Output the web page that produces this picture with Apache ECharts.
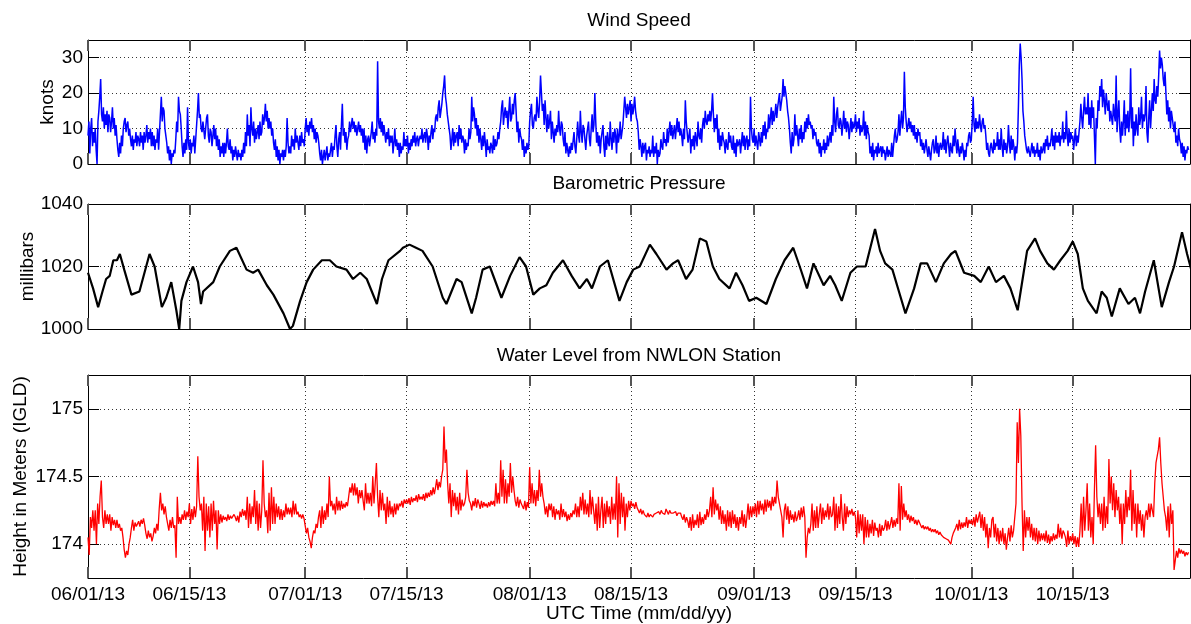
<!DOCTYPE html>
<html><head><meta charset="utf-8">
<script src="https://cdn.jsdelivr.net/npm/echarts@6/dist/echarts.min.js"></script>
<style>html,body{margin:0;padding:0;background:#fff}#c{width:1191px;height:624px}</style>
</head><body><div id="c"></div>
<script>
// ---- time axis (days since 06/01/13 00:00 UTC) ----
const X_MAX_DAYS = 152.2;
const tickDays = [0, 14, 30, 44, 61, 75, 92, 106, 122, 136];
const tickLabels = ['06/01/13','06/15/13','07/01/13','07/15/13','08/01/13','08/15/13','09/01/13','09/15/13','10/01/13','10/15/13'];

// ---- y tick values ----
const windTicks = [0, 10, 20, 30];
const pressureTicks = [1000, 1020, 1040];
const waterTicks = [174, 174.5, 175];

// ---- wind speed (knots), every 3 hours from 06/01/13 ----
const windStepDays = 0.125;
const windKnots = [
8,12,3,10,13,5,9,6, 10,4,0,12,15,19,24,14, 12,16,10,14,11,15,9,14, 13,9,12,16,10,13,8,11, 7,4,2,6,3,8,5,10,
12,13,9,11,12,8,10,7, 5,8,4,7,6,9,5,8, 7,5,9,6,8,4,9,6, 8,11,6,9,7,10,5,9, 5,8,4,7,6,10,4,9,
14,19,12,16,15,10,8,6, 3,5,1,4,0,3,2,4, 3,7,12,9,19,15,14,10, 5,2,6,3,7,4,16,6, 4,7,3,6,5,8,3,7,
11,15,20,13,14,10,9,12, 12,7,10,13,14,8,6,10, 9,5,8,11,7,10,5,8, 4,7,2,5,3,6,2,6, 3,6,10,5,4,7,3,5,
1,4,2,5,3,1,4,2, 3,1,4,2,6,3,9,5, 14,8,11,5,16,10,8,12, 6,10,7,9,11,7,12,8, 9,14,11,13,17,12,15,10,
13,10,12,8,10,6,4,7, 2,5,1,4,0,3,2,4, 1,4,2,5,13,6,3,5, 3,8,5,7,4,10,6,8, 6,4,8,5,9,6,7,5,
10,13,9,11,8,12,10,13, 9,11,7,10,6,9,8,6, 3,1,4,0,2,4,1,3, 5,1,3,2,4,6,2,5, 4,8,11,5,2,7,9,4,
11,17,8,10,6,9,4,7, 8,12,9,11,13,10,12,9, 11,8,10,12,9,11,8,10, 6,10,4,8,3,7,8,5, 5,9,12,7,9,6,10,8,
29,12,10,13,9,12,8,11, 11,6,9,7,10,5,8,6, 8,3,6,10,5,7,4,6, 2,6,3,5,4,9,5,7, 5,8,3,6,4,7,5,8,
6,9,5,7,8,5,7,8, 7,10,6,8,9,6,10,8, 4,8,6,9,11,7,10,9, 13,14,12,16,18,13,15,17, 20,22,25,19,17,14,12,10,
8,4,7,10,5,9,6,8, 9,5,11,7,10,6,8,7, 3,7,4,6,5,10,7,9, 19,12,16,14,10,13,8,11, 6,10,7,4,8,5,9,6,
2,7,4,5,3,6,5,3, 8,4,7,5,6,9,7,10, 12,16,18,11,14,16,13,15, 10,15,19,12,13,17,14,18, 20,15,9,12,6,10,8,7,
4,7,2,5,3,6,4,5, 12,15,17,11,10,13,14,12, 19,15,13,18,25,20,15,17, 11,18,13,9,14,10,12,15, 7,12,9,6,10,8,11,9,
15,10,8,12,11,7,5,9, 3,6,4,2,5,3,6,4, 4,9,5,3,7,12,8,6, 15,9,6,11,10,7,4,8, 8,12,7,5,10,14,9,11,
20,12,6,9,5,8,3,7, 7,11,5,2,8,4,9,6, 5,12,7,4,9,6,10,8, 3,10,6,8,12,7,9,11, 15,19,16,13,17,14,16,18,
12,17,14,16,19,15,13,12, 9,4,7,5,2,6,3,5, 6,1,4,3,5,2,4,3, 8,2,5,3,6,0,4,2, 3,7,5,4,9,6,7,5,
10,6,9,12,8,11,7,9, 11,7,10,13,9,12,8,10, 8,5,10,7,18,12,9,6, 6,10,3,7,5,8,4,9, 9,5,12,8,7,10,6,11,
13,10,15,12,11,14,12,15, 12,15,20,14,9,13,10,14, 6,10,4,8,5,9,7,6, 3,7,5,4,9,6,8,5, 4,8,3,6,2,7,5,6,
7,3,6,9,5,8,4,7, 8,4,7,5,19,10,7,6, 10,5,8,6,4,9,7,5, 9,6,11,8,12,7,10,9, 14,10,13,16,11,15,12,14,
17,13,16,18,20,15,17,19, 24,19,22,20,18,15,13,10, 6,3,9,5,7,14,8,11, 8,5,10,7,11,6,9,7, 12,9,13,10,14,11,12,10,
11,7,10,8,9,6,5,7, 3,6,2,5,4,7,3,6, 4,8,5,7,9,6,11,8, 19,12,9,14,16,11,10,13, 12,8,11,15,10,13,9,12,
11,7,10,13,9,12,10,11, 14,9,12,10,13,8,11,9, 10,15,8,12,7,11,9,8, 3,5,2,6,1,4,3,5, 2,6,3,4,5,2,5,3,
4,1,3,5,2,4,3,2, 6,2,5,8,10,6,7,9, 14,8,12,15,10,13,26,16, 12,9,11,13,10,12,9,11, 8,11,7,9,6,10,8,9,
5,7,4,6,3,5,7,4, 2,5,3,1,4,6,7,3, 4,8,3,6,2,5,6,4, 5,9,4,7,3,6,8,5, 2,6,4,3,8,5,10,6,
3,7,4,2,5,3,6,4, 1,4,2,6,5,8,9,6, 7,12,19,11,9,13,10,12, 10,14,11,9,12,13,10,11, 8,4,6,3,2,5,6,4,
3,7,4,6,5,9,4,7, 4,10,5,2,7,4,6,3, 5,11,6,3,8,4,7,5, 1,5,3,6,16,28,34,30, 24,15,12,8,6,4,3,5,
5,2,4,6,3,5,2,4, 3,6,2,4,1,5,3,4, 6,3,7,5,8,4,6,5, 7,10,5,8,4,9,6,8, 6,9,5,8,7,12,6,9,
7,15,8,5,10,6,9,7, 8,4,7,10,5,8,6,9, 12,17,13,10,15,19,14,16, 14,20,11,16,10,18,13,16, 8,0,13,10,18,15,22,19,
24,16,21,18,14,20,17,15, 18,12,15,13,11,17,14,12, 25,9,14,18,10,6,12,8, 12,18,8,14,10,15,9,13, 27,10,16,5,12,8,14,10,
8,16,11,13,19,10,14,12, 14,22,9,6,13,18,10,15, 20,15,24,18,17,22,19,25, 32,27,30,28,24,22,26,20, 14,18,12,16,10,15,13,11,
9,12,6,8,5,10,7,6, 3,6,2,5,1,4,3,5, 4
];

// ---- barometric pressure (millibars): [day, value] readings ----
const pressureReadings = [
[0,1018],[0.7,1013],[1.4,1007],[2,1012],[2.5,1016],[3,1017],[3.5,1022],[4,1022],[4.4,1024],[5,1019],[6,1011],[7.1,1012],
[8.5,1024],[9.2,1020],[10.2,1007],[10.8,1010],[11.5,1015],[12.2,1006],[12.6,1000],[12.9,1009],[13.6,1015],[14.5,1020],
[15.2,1015],[15.6,1008],[15.9,1012],[17.3,1015],[18.2,1020],[19.6,1025],[20.5,1026],[21.9,1019],[22.8,1018],[23.5,1019],
[24.7,1014],[25.6,1011],[27,1005],[27.9,1000],[28.3,1001],[29.3,1009],[30.2,1015],[31.1,1019],[32.3,1022],[33.4,1022],
[34.3,1020],[35.7,1019],[36.6,1016],[37.6,1018],[38.5,1016],[39.9,1008],[40.6,1016],[41.5,1022],[43.1,1025],[43.5,1026],
[44.4,1027],[45.3,1026],[46.2,1025],[47.6,1020],[49,1010],[49.5,1008],[50.9,1016],[51.6,1015],[53,1005],[53.6,1010],
[54.5,1019],[55.5,1020],[57.1,1010],[58.3,1017],[59.6,1023],[60.5,1020],[61.5,1011],[62.4,1013],[63.3,1014],[64.2,1018],
[65.6,1022],[66.8,1017],[67.9,1013],[68.9,1016],[69.6,1013],[70.7,1020],[71.8,1022],[73.4,1009],[74.4,1015],[75.3,1019],
[76.2,1020],[77.6,1027],[78.5,1024],[79.9,1019],[80.8,1021],[81.5,1022],[82.6,1016],[83.5,1019],[84.5,1029],[85.4,1028],
[86.3,1020],[87.2,1016],[88.6,1013],[89.5,1018],[90.4,1014],[91.3,1009],[92.3,1010],[93.7,1008],[95,1016],[96.2,1022],
[97.4,1026],[98.3,1020],[99.3,1013],[100.2,1021],[101.6,1014],[102.5,1017],[103.2,1014],[104.1,1009],[105.3,1018],
[106.2,1020],[107.4,1020],[108.7,1032],[109.4,1025],[110.1,1021],[111.1,1019],[112,1012],[112.9,1005],[113.1,1005],
[114.1,1013],[115,1021],[115.9,1021],[117.1,1015],[118.2,1021],[119.2,1024],[119.8,1025],[121,1018],[122.4,1017],
[123.3,1015],[124.4,1020],[125.4,1015],[126.5,1017],[127.4,1013],[128.4,1006],[129.7,1025],[130.8,1029],[131.5,1025],
[132.5,1021],[133.4,1019],[134.3,1022],[135.3,1025],[136,1028],[136.7,1024],[137.4,1013],[138.1,1009],[139.3,1005],
[140,1012],[140.7,1010],[141.4,1004],[142.5,1013],[143.7,1008],[144.6,1010],[145.3,1005],[146,1012],[147.2,1022],
[148.3,1007],[149.3,1015],[150,1020],[151.1,1031],[151.8,1024],[152.6,1017]
];

// ---- water level (m, IGLD), every 4 hours from 06/01/13 ----
const waterStepDays = 1 / 6;
const waterLevel = [
174.05,173.92,174.2,174.12,174.25,174.1, 174.25,174.0,174.3,174.15,174.35,174.47, 174.2,174.12,174.25,174.15,174.22,174.15,
174.22,174.1,174.2,174.14,174.18,174.12, 174.18,174.12,174.15,174.1,174.12,174.05, 173.96,173.9,173.95,173.92,174.0,174.05,
174.12,174.18,174.1,174.16,174.13,174.15, 174.17,174.13,174.18,174.15,174.19,174.14, 174.08,174.04,174.1,174.05,174.08,174.02,
174.06,174.12,174.08,174.15,174.1,174.26, 174.38,174.25,174.3,174.22,174.28,174.2, 174.15,174.1,174.18,174.12,174.2,174.12,
174.14,173.9,174.35,174.15,174.2,174.15, 174.22,174.18,174.25,174.18,174.24,174.2, 174.3,174.15,174.26,174.18,174.28,174.2,
174.28,174.65,174.35,174.25,174.3,174.1, 174.35,173.95,174.3,174.1,174.28,174.05, 174.3,174.1,174.32,174.15,174.25,173.96,
174.25,174.15,174.22,174.16,174.21,174.18, 174.2,174.17,174.22,174.18,174.21,174.19, 174.18,174.22,174.2,174.17,174.21,174.16,
174.24,174.2,174.26,174.21,174.25,174.18, 174.35,174.12,174.3,174.15,174.28,174.2, 174.4,174.15,174.32,174.1,174.3,174.12,
174.25,174.62,174.3,174.2,174.25,174.08, 174.38,174.1,174.42,174.15,174.35,174.15, 174.3,174.2,174.28,174.18,174.26,174.18,
174.25,174.2,174.3,174.22,174.27,174.22, 174.27,174.2,174.32,174.22,174.3,174.22, 174.24,174.2,174.22,174.19,174.22,174.19,
174.2,174.08,174.12,174.05,174.02,173.97, 174.05,174.1,174.08,174.15,174.12,174.2, 174.25,174.12,174.28,174.15,174.25,174.18,
174.3,174.2,174.5,174.28,174.32,174.25, 174.3,174.22,174.35,174.25,174.32,174.25, 174.32,174.26,174.3,174.27,174.31,174.28,
174.35,174.42,174.38,174.45,174.36,174.45, 174.36,174.42,174.3,174.4,174.34,174.4, 174.32,174.25,174.45,174.3,174.38,174.3,
174.38,174.28,174.5,174.3,174.45,174.6, 174.35,174.2,174.4,174.25,174.38,174.25, 174.3,174.15,174.35,174.2,174.32,174.22,
174.28,174.2,174.3,174.22,174.3,174.25, 174.3,174.28,174.32,174.27,174.33,174.3, 174.33,174.3,174.34,174.29,174.35,174.31,
174.34,174.32,174.36,174.31,174.37,174.33, 174.35,174.33,174.37,174.32,174.38,174.34, 174.38,174.35,174.4,174.36,174.42,174.37,
174.42,174.48,174.4,174.46,174.42,174.5, 174.55,174.87,174.6,174.7,174.45,174.3, 174.45,174.2,174.4,174.28,174.38,174.25,
174.35,174.22,174.38,174.25,174.33,174.28, 174.3,174.35,174.55,174.38,174.32,174.3, 174.25,174.32,174.28,174.34,174.27,174.33,
174.3,174.26,174.32,174.27,174.31,174.28, 174.3,174.27,174.31,174.28,174.32,174.29, 174.32,174.28,174.45,174.3,174.38,174.3,
174.62,174.35,174.55,174.3,174.48,174.3, 174.45,174.35,174.6,174.38,174.5,174.4, 174.32,174.28,174.35,174.27,174.33,174.3,
174.3,174.26,174.32,174.25,174.31,174.27, 174.57,174.3,174.45,174.3,174.4,174.28, 174.4,174.32,174.55,174.35,174.45,174.35,
174.3,174.22,174.28,174.2,174.3,174.25, 174.3,174.2,174.28,174.18,174.26,174.22, 174.25,174.18,174.3,174.2,174.26,174.2,
174.24,174.17,174.22,174.18,174.23,174.2, 174.25,174.22,174.3,174.2,174.28,174.2, 174.35,174.25,174.38,174.22,174.33,174.22,
174.3,174.2,174.4,174.22,174.35,174.25, 174.15,174.3,174.1,174.35,174.12,174.25, 174.35,174.12,174.3,174.15,174.32,174.2,
174.28,174.15,174.35,174.18,174.3,174.18, 174.5,174.05,174.45,174.15,174.38,174.2, 174.35,174.1,174.3,174.2,174.32,174.25,
174.32,174.28,174.3,174.26,174.31,174.27, 174.25,174.23,174.26,174.22,174.25,174.22, 174.22,174.2,174.23,174.2,174.22,174.21,
174.2,174.22,174.21,174.23,174.22,174.24, 174.22,174.25,174.23,174.24,174.22,174.26, 174.24,174.22,174.25,174.23,174.24,174.23,
174.22,174.24,174.21,174.23,174.22,174.23, 174.2,174.18,174.22,174.16,174.2,174.17, 174.12,174.2,174.1,174.22,174.12,174.18,
174.14,174.22,174.12,174.24,174.14,174.2, 174.15,174.22,174.18,174.26,174.2,174.25, 174.35,174.2,174.42,174.22,174.33,174.25,
174.3,174.18,174.28,174.15,174.25,174.15, 174.22,174.1,174.25,174.13,174.24,174.12, 174.25,174.15,174.22,174.12,174.2,174.1,
174.2,174.15,174.25,174.13,174.22,174.12, 174.2,174.3,174.18,174.28,174.2,174.28, 174.22,174.3,174.2,174.32,174.22,174.32,
174.25,174.3,174.22,174.33,174.24,174.33, 174.27,174.32,174.25,174.35,174.28,174.35, 174.3,174.47,174.35,174.3,174.25,174.2,
174.05,174.25,174.3,174.18,174.28,174.15, 174.25,174.18,174.22,174.16,174.24,174.17, 174.2,174.25,174.18,174.27,174.2,174.28,
174.2,173.9,174.05,174.12,174.08,174.15, 174.3,174.1,174.25,174.12,174.28,174.12, 174.22,174.3,174.15,174.27,174.18,174.25,
174.2,174.3,174.18,174.28,174.2,174.22, 174.35,174.1,174.3,174.12,174.28,174.15, 174.37,174.2,174.1,174.3,174.15,174.28,
174.2,174.25,174.22,174.26,174.21,174.24, 174.2,174.05,174.25,174.08,174.22,174.1, 174.22,174.0,174.2,174.05,174.18,174.05,
174.15,174.08,174.18,174.06,174.16,174.1, 174.12,174.05,174.15,174.06,174.14,174.1, 174.12,174.18,174.1,174.17,174.11,174.15,
174.2,174.12,174.18,174.13,174.19,174.15, 174.45,174.1,174.43,174.18,174.3,174.2, 174.25,174.18,174.22,174.16,174.21,174.17,
174.2,174.15,174.18,174.14,174.18,174.16, 174.15,174.12,174.14,174.11,174.13,174.11, 174.13,174.1,174.12,174.09,174.11,174.09,
174.11,174.08,174.1,174.07,174.09,174.07, 174.08,174.05,174.06,174.04,174.05,174.03, 174.02,174.0,174.05,174.08,174.1,174.12,
174.15,174.1,174.18,174.11,174.16,174.12, 174.16,174.13,174.2,174.12,174.18,174.15, 174.18,174.14,174.2,174.13,174.22,174.16,
174.2,174.24,174.12,174.22,174.1,174.2, 174.05,174.15,173.97,174.12,174.05,174.18, 174.2,174.05,174.15,174.02,174.12,174.0,
174.1,174.02,174.12,174.0,174.08,173.96, 174.05,174.12,174.02,174.14,174.05,174.1, 174.1,174.3,174.9,174.6,175.0,174.8,
174.3,173.95,174.25,174.05,174.2,174.1, 174.2,174.05,174.15,174.03,174.12,174.02, 174.12,174.0,174.1,174.02,174.08,174.03,
174.08,174.02,174.1,174.01,174.07,174.0, 174.06,174.02,174.08,174.03,174.07,174.04, 174.15,174.05,174.12,174.04,174.1,174.08,
174.05,173.98,174.1,174.0,174.06,174.02, 174.08,174.0,174.06,173.98,174.05,173.98, 174.1,174.3,174.05,174.35,174.1,174.25,
174.45,174.1,174.3,174.05,174.2,174.0, 174.4,174.73,174.35,174.2,174.3,174.15, 174.3,174.1,174.35,174.12,174.28,174.15,
174.63,174.3,174.5,174.25,174.45,174.2, 174.4,174.25,174.35,174.15,174.3,174.0, 174.3,174.15,174.4,174.2,174.35,174.25,
174.55,174.1,174.4,174.15,174.3,174.05, 174.3,174.15,174.25,174.1,174.22,174.05, 174.2,174.25,174.18,174.3,174.2,174.3,
174.25,174.2,174.45,174.6,174.65,174.7, 174.79,174.6,174.45,174.35,174.25,174.2, 174.1,174.28,174.05,174.3,174.15,174.25,
173.81,173.88,173.95,173.9,173.97,173.93, 173.96,173.93,173.95,173.91,173.94,173.92, 173.94
];

// ---- build chart ----
const FONT = 'Liberation Sans, Arial, sans-serif';
const txt = { fontSize: 19, color: '#000', fontFamily: FONT };
const gridDefs = [
  { left: 88, right: 1, top: 40, height: 124, outerBoundsMode: 'none' },
  { left: 88, right: 1, top: 204, height: 125, outerBoundsMode: 'none' },
  { left: 88, right: 1, top: 375, height: 203, outerBoundsMode: 'none' }
];
const dotted = { color: '#333', type: [1, 3], width: 1 };

function xAxesFor(g, withLabels) {
  const base = {
    type: 'value', gridIndex: g, min: 0, max: X_MAX_DAYS,
    axisLine: { show: true, onZero: false, lineStyle: { color: '#000', width: 1 } },
    axisTick: { show: true, inside: true, length: 11, customValues: tickDays, lineStyle: { color: '#555', width: 2 } }
  };
  return [
    Object.assign({}, base, {
      position: 'bottom',
      axisLabel: { show: withLabels, customValues: tickDays, margin: 7, ...txt,
        formatter: v => tickLabels[tickDays.indexOf(v)] || '' },
      splitLine: { show: true, lineStyle: dotted },
      name: withLabels ? 'UTC Time (mm/dd/yy)' : '',
      nameLocation: 'middle', nameGap: 26, nameMoveOverlap: false, nameTextStyle: txt
    }),
    Object.assign({}, base, {
      position: 'top', axisLabel: { show: false }, splitLine: { show: false }
    })
  ];
}
function yAxesFor(g, min, max, ticks, name, gap) {
  const base = {
    type: 'value', gridIndex: g, min: min, max: max,
    axisLine: { show: true, onZero: false, lineStyle: { color: '#000', width: 1 } },
    axisTick: { show: true, inside: true, length: 11, customValues: ticks, lineStyle: { color: '#000', width: 1 } }
  };
  return [
    Object.assign({}, base, {
      position: 'left',
      axisLabel: { show: true, customValues: ticks, margin: 5, ...txt, formatter: v => String(v) },
      splitLine: { show: true, lineStyle: dotted },
      name: name, nameLocation: 'middle', nameGap: gap, nameMoveOverlap: false, nameTextStyle: txt
    }),
    Object.assign({}, base, {
      position: 'right', axisLabel: { show: false }, splitLine: { show: false }
    })
  ];
}

const chart = echarts.init(document.getElementById('c'), null, { renderer: 'canvas' });
chart.setOption({
  animation: false,
  backgroundColor: '#fff',
  grid: gridDefs,
  graphic: [
    { type: 'text', x: 639, y: 20.5, style: { text: 'Wind Speed', font: '19px ' + FONT, fill: '#000', textAlign: 'center', textVerticalAlign: 'middle' } },
    { type: 'text', x: 639, y: 184, style: { text: 'Barometric Pressure', font: '19px ' + FONT, fill: '#000', textAlign: 'center', textVerticalAlign: 'middle' } },
    { type: 'text', x: 639, y: 356, style: { text: 'Water Level from NWLON Station', font: '19px ' + FONT, fill: '#000', textAlign: 'center', textVerticalAlign: 'middle' } }
  ],
  xAxis: [].concat(xAxesFor(0, false), xAxesFor(1, false), xAxesFor(2, true)),
  yAxis: [].concat(
    yAxesFor(0, 0, 35, windTicks, 'knots', 31),
    yAxesFor(1, 1000, 1040, pressureTicks, 'millibars', 51),
    yAxesFor(2, 173.75, 175.25, waterTicks, 'Height in Meters (IGLD)', 58)
  ),
  series: [
    { type: 'line', xAxisIndex: 0, yAxisIndex: 0, showSymbol: false, symbol: 'none',
      lineStyle: { color: '#0000ff', width: 1.5 }, data: windKnots.map((v, i) => [i * windStepDays, v]) },
    { type: 'line', xAxisIndex: 2, yAxisIndex: 2, showSymbol: false, symbol: 'none',
      lineStyle: { color: '#000', width: 2.2 }, data: pressureReadings },
    { type: 'line', xAxisIndex: 4, yAxisIndex: 4, showSymbol: false, symbol: 'none',
      lineStyle: { color: '#ff0000', width: 1.3 }, data: waterLevel.map((v, i) => [i * waterStepDays, v]) }
  ]
});
</script></body></html>
